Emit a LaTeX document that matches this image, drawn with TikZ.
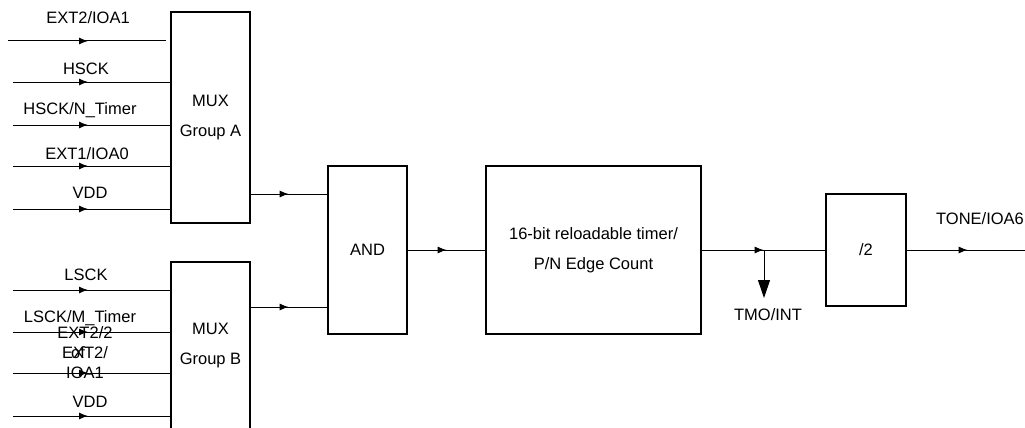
\documentclass[tikz,border=0pt]{standalone}
\usepackage{fontspec}
\setmainfont{Liberation Sans}
\usetikzlibrary{arrows.meta, decorations.markings, positioning}

\tikzset{
  block/.style={draw, line width=1.3pt, minimum width=79pt, align=center,
    inner sep=0pt, font=\fontsize{16.5}{30}\selectfont},
  lbl/.style={font=\fontsize{16.5}{20}\selectfont, inner sep=0pt},
  wire/.style={line width=1pt},
  flow/.style={wire, postaction={decorate},
    decoration={markings, mark=at position #1 with {\arrow{Latex[length=9pt,width=7pt]}}}}
}

\begin{document}
\begin{tikzpicture}[x=1pt, y=-1pt]
  \useasboundingbox (0,0) rectangle (1025,428);

  % blocks
  \node[block, minimum height=211pt] (muxA) at (210.5,117.5) {MUX\\Group A};
  \node[block, minimum height=168pt] (muxB) at (210.5,346) {MUX\\Group B};
  \node[block, minimum height=168pt] (and) at (367.5,250) {AND};
  \node[block, minimum width=215pt, minimum height=168pt] (timer) at (593.5,250)
    {16-bit reloadable timer/\\P/N Edge Count};
  \node[block, minimum width=80pt, minimum height=112pt] (div) at (866,250) {/2};

  % inputs of group A
  \coordinate (ext2in) at (8,41);
  \coordinate (ext2end) at (166,41);
  \draw[flow=80pt] (ext2in) -- (ext2end);
  \foreach \y/\name in {82/hsck, 125/hsckn, 166/ext1, 209/vdda}{
    \coordinate (\name) at (13,\y);
    \draw[flow=75pt] (\name) -- (\name -| muxA.west);
  }
  \node[lbl] at (88,18) {EXT2/IOA1};
  \node[lbl] at (86,69) {HSCK};
  \node[lbl] at (80,110) {HSCK/N\_Timer};
  \node[lbl] at (87,154) {EXT1/IOA0};
  \node[lbl] at (90,193) {VDD};

  % inputs of group B
  \foreach \y/\name in {290/lsck, 332/lsckm, 373/ext2b, 416/vddb}{
    \coordinate (\name) at (13,\y);
    \draw[flow=75pt] (\name) -- (\name -| muxB.west);
  }
  \node[lbl] at (86,275) {LSCK};
  \node[lbl] at (80,318) {LSCK/M\_Timer};
  \node[lbl] at (85,333) {EXT2/2};
  \node[lbl] at (85,353) {EXT2/};
  \node[lbl] at (78,353) {of};
  \node[lbl] at (85,373) {IOA1};
  \node[lbl] at (90,402) {VDD};

  % mux outputs into the gate
  \draw[flow=38pt] (muxA.east |- 0,194) -- (and.west |- 0,194);
  \draw[flow=38pt] (muxB.east |- 0,307) -- (and.west |- 0,307);

  % main path
  \draw[flow=39pt] (and) -- (timer);
  \draw[flow=62pt] (timer) -- (div);
  \coordinate (tap) at (764,250);
  \coordinate (tmo) at (764,298);
  \draw[wire, -{Triangle[length=18pt,width=12pt]}] (tap) -- (tmo);
  \node[lbl] (tmolbl) at (768,315) {TMO/INT};

  \coordinate (tone) at (1025,250);
  \draw[flow=61pt] (div) -- (tone);
  \node[lbl] (tonelbl) at (980,219) {TONE/IOA6};
\end{tikzpicture}
\end{document}
